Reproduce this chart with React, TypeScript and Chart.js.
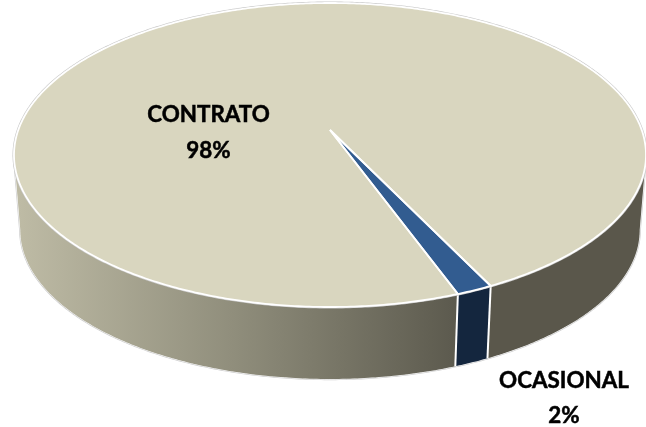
import React, { useEffect, useRef } from "react";
import { Chart, registerables } from "chart.js";

Chart.register(...registerables);

const categories = ["CONTRATO", "OCASIONAL"];
const values = [98.4, 1.6];
const shownPercent = ["98%", "2%"];
const faceColors = ["#D9D6BF", "#325C90"];

const RIM_DARK_RIGHT = "#5A574B";
const RIM_OCASIONAL = "#14263E";
const APEX = { x: 330, y: 130 };
const SQUASH = -0.1645;
const SCALE_Y = 147.9;
const SCALE_X = 311.7;
const DEPTH = 75.5;
const FOOT_SCALE = 0.98;

function project(t: number, foot: boolean) {
  const u = Math.cos(t);
  const v = Math.sin(t);
  const w = 1 + SQUASH * v;
  const k = foot ? FOOT_SCALE : 1;
  return {
    x: APEX.x + (SCALE_X * u * k) / w,
    y: APEX.y + (SCALE_Y * v * k) / w + (foot ? DEPTH : 0),
  };
}

function ring(a: number, b: number, foot: boolean) {
  const n = Math.max(2, Math.ceil(Math.abs(b - a) / 0.01));
  const pts = [];
  for (let i = 0; i <= n; i++) pts.push(project(a + ((b - a) * i) / n, foot));
  return pts;
}

function trace(ctx: CanvasRenderingContext2D, pts: { x: number; y: number }[], move = true) {
  pts.forEach((p, i) => {
    if (i === 0 && move) ctx.moveTo(p.x, p.y);
    else ctx.lineTo(p.x, p.y);
  });
}

const deg = Math.PI / 180;
const TWO_PI = 2 * Math.PI;
const SIL_RIGHT = 9.5 * deg;
const SIL_LEFT = 170.5 * deg;

function boldText(ctx: CanvasRenderingContext2D, text: string, x: number, y: number) {
  ctx.fillText(text, x, y);
  ctx.strokeText(text, x, y);
}

const pie3d = {
  id: "pie3d",
  beforeDatasetDraw(chart: any, args: any) {
    const { ctx } = chart;
    const arcs = args.meta.data;
    const [big, small] = arcs;
    let gStart = small.startAngle;
    let gEnd = small.endAngle;
    while (gStart >= TWO_PI) {
      gStart -= TWO_PI;
      gEnd -= TWO_PI;
    }

    const rim = (a: number, b: number, fill: any) => {
      ctx.beginPath();
      trace(ctx, ring(a, b, false));
      trace(ctx, ring(b, a, true), false);
      ctx.closePath();
      ctx.fillStyle = fill;
      ctx.fill();
    };

    ctx.save();
    const grad = ctx.createLinearGradient(18, 0, 456, 0);
    grad.addColorStop(0, "#BEBBA5");
    grad.addColorStop(0.5, "#8F8D7B");
    grad.addColorStop(1, "#5C5A4E");

    // faint outline behind everything
    const outline = () => {
      ctx.beginPath();
      const tr = project(SIL_RIGHT, false);
      const tl = project(SIL_LEFT, false);
      ctx.moveTo(tr.x, tr.y);
      trace(ctx, ring(SIL_RIGHT, SIL_LEFT, true), false);
      ctx.lineTo(tl.x, tl.y);
    };
    ctx.lineJoin = "round";
    outline();
    ctx.strokeStyle = "#CFCFCF";
    ctx.lineWidth = 2.4;
    ctx.stroke();
    outline();
    ctx.strokeStyle = "#FFFFFF";
    ctx.lineWidth = 1;
    ctx.stroke();

    rim(gEnd, SIL_LEFT, grad);
    rim(SIL_RIGHT, gStart, RIM_DARK_RIGHT);
    rim(gStart, gEnd, RIM_OCASIONAL);

    // vertical edges of the small slice
    [gStart, gEnd].forEach((t) => {
      const a = project(t, false);
      const b = project(t, true);
      ctx.beginPath();
      ctx.moveTo(a.x, a.y);
      ctx.lineTo(b.x, b.y);
      ctx.strokeStyle = "#FFFFFF";
      ctx.lineWidth = 2;
      ctx.stroke();
    });

    // faint outline behind the top face
    ctx.beginPath();
    trace(ctx, ring(0, TWO_PI, false));
    ctx.closePath();
    ctx.strokeStyle = "#C9C9C9";
    ctx.lineWidth = 3;
    ctx.stroke();

    // top faces
    ctx.lineJoin = "miter";
    [big, small].forEach((arc: any) => {
      ctx.beginPath();
      ctx.moveTo(APEX.x, APEX.y);
      trace(ctx, ring(arc.startAngle, arc.endAngle, false), false);
      ctx.closePath();
      ctx.fillStyle = arc.options.backgroundColor;
      ctx.fill();
    });
    [big, small].forEach((arc: any) => {
      ctx.beginPath();
      ctx.moveTo(APEX.x, APEX.y);
      trace(ctx, ring(arc.startAngle, arc.endAngle, false), false);
      ctx.closePath();
      ctx.strokeStyle = "#FFFFFF";
      ctx.lineWidth = 1.8;
      ctx.stroke();
    });

    // labels
    ctx.fillStyle = "#000000";
    ctx.strokeStyle = "#000000";
    ctx.lineWidth = 0.5;
    ctx.font = "bold 22.4px Lato";
    ctx.textAlign = "center";
    ctx.textBaseline = "middle";
    boldText(ctx, categories[0], 208.5, 115);
    boldText(ctx, shownPercent[0], 208.5, 151);
    boldText(ctx, categories[1], 564, 381);
    boldText(ctx, shownPercent[1], 564, 416);
    ctx.restore();
    return false;
  },
};

export default function App() {
  const ref = useRef<HTMLCanvasElement | null>(null);
  useEffect(() => {
    document.body.style.margin = "0";
    const chart = new Chart(ref.current as HTMLCanvasElement, {
      type: "pie",
      data: {
        labels: categories,
        datasets: [{ data: values, backgroundColor: faceColors, borderColor: "#FFFFFF", borderWidth: 2 }],
      },
      options: {
        responsive: false,
        animation: false,
        rotation: 159.7,
        plugins: { legend: { display: false }, tooltip: { enabled: false } },
      },
      plugins: [pie3d],
    } as any);
    return () => chart.destroy();
  }, []);
  return <canvas ref={ref} width={646} height={427} style={{ display: "block" }} />;
}
